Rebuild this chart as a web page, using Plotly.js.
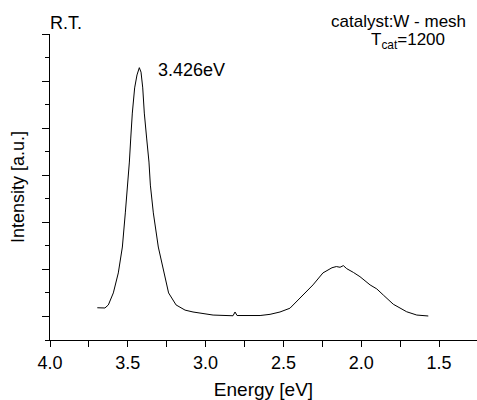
<!DOCTYPE html>
<html>
<head>
<meta charset="utf-8">
<script src="https://cdn.plot.ly/plotly-3.0.1.min.js"></script>
<style>html,body{margin:0;padding:0;background:#fff}#chart{width:477px;height:400px}</style>
</head>
<body>
<div id="chart"></div>
<script>
// Photon energy (eV)
var energy = [3.696, 3.647, 3.625, 3.593, 3.561, 3.535, 3.516, 3.501, 3.490, 3.481, 3.471, 3.456, 3.441, 3.426,
  3.415, 3.404, 3.394, 3.379, 3.364, 3.355, 3.336, 3.304, 3.267, 3.238, 3.190, 3.132, 3.081, 2.952, 2.824,
  2.811, 2.798, 2.650, 2.586, 2.522, 2.458, 2.374, 2.310, 2.246, 2.188, 2.160, 2.136, 2.115, 2.093, 2.050, 2.008, 1.943, 1.900, 1.858,
  1.794, 1.708, 1.643, 1.569];
// PL intensity (a.u.)
var intensity = [1.37, 1.36, 1.49, 2.00, 2.85, 3.95, 5.40, 6.58, 7.56, 8.58, 9.64, 10.71, 11.26, 11.57,
  11.38, 10.71, 9.64, 8.58, 7.56, 6.58, 5.40, 3.95, 2.85, 2.00, 1.49, 1.27, 1.19, 1.06, 1.03,
  1.19, 1.04, 1.04, 1.09, 1.19, 1.35, 1.91, 2.34, 2.85, 3.07, 3.12, 3.09, 3.16, 3.03, 2.87, 2.69, 2.34, 2.17, 1.91,
  1.52, 1.20, 1.06, 1.02];
var xTitle = 'Energy [eV]';
var yTitle = 'Intensity [a.u.]';
var peakLabel = '3.426eV';
var tempLabel = 'R.T.';
var catalystLabel = 'catalyst:W - mesh';
var tcatLabel = 'T<sub>cat</sub>=1200';

var font = 'Arial, "Liberation Sans", sans-serif';
var trace = {x: energy, y: intensity, type: 'scatter', mode: 'lines',
  line: {color: '#000', width: 1}, hoverinfo: 'skip'};
var layout = {
  width: 477, height: 400,
  margin: {l: 50, r: 0, t: 34, b: 60},
  paper_bgcolor: '#fff', plot_bgcolor: '#fff',
  showlegend: false,
  font: {family: font, size: 18, color: '#000'},
  xaxis: {
    range: [4.0, 1.256], autorange: false,
    showgrid: false, zeroline: false,
    showline: true, linecolor: '#000', linewidth: 1,
    ticks: 'outside', ticklen: 6, tickwidth: 1, tickcolor: '#000',
    tick0: 4.0, dtick: 0.5, tickformat: '.1f',
    tickfont: {family: font, size: 18, color: '#000'},
    minor: {ticks: 'outside', ticklen: 6, tickwidth: 1, tickcolor: '#000', dtick: 0.25, tick0: 4.0, showgrid: false},
    title: {text: xTitle, font: {family: font, size: 19, color: '#000'}, standoff: 12}
  },
  yaxis: {
    range: [0, 13], autorange: false,
    showgrid: false, zeroline: false,
    showline: true, linecolor: '#000', linewidth: 1,
    ticks: 'outside', ticklen: 7, tickwidth: 1, tickcolor: '#000',
    tick0: 1, dtick: 2, showticklabels: false,
    minor: {ticks: 'outside', ticklen: 4, tickwidth: 1, tickcolor: '#000', dtick: 1, tick0: 0, showgrid: false},
    title: {text: yTitle, font: {family: font, size: 18, color: '#000'}, standoff: 12}
  },
  annotations: [
    {text: tempLabel, xref: 'paper', yref: 'paper', x: -0.005, y: 1.037, xanchor: 'left', yanchor: 'middle',
     showarrow: false, font: {family: font, size: 18, color: '#000'}},
    {text: peakLabel, xref: 'x', yref: 'y', x: 3.32, y: 11.45, xanchor: 'left', yanchor: 'middle',
     showarrow: false, font: {family: font, size: 18, color: '#000'}},
    {text: catalystLabel, xref: 'paper', yref: 'paper', x: (468 - 50) / 427, y: (340 - 22) / 306, xanchor: 'right', yanchor: 'middle',
     showarrow: false, font: {family: font, size: 17, color: '#000'}},
    {text: tcatLabel, xref: 'paper', yref: 'paper', x: (447 - 50) / 427, y: (340 - 41) / 306, xanchor: 'right', yanchor: 'middle',
     showarrow: false, font: {family: font, size: 17, color: '#000'}}
  ]
};
Plotly.newPlot('chart', [trace], layout, {staticPlot: true, displayModeBar: false});
</script>
</body>
</html>
